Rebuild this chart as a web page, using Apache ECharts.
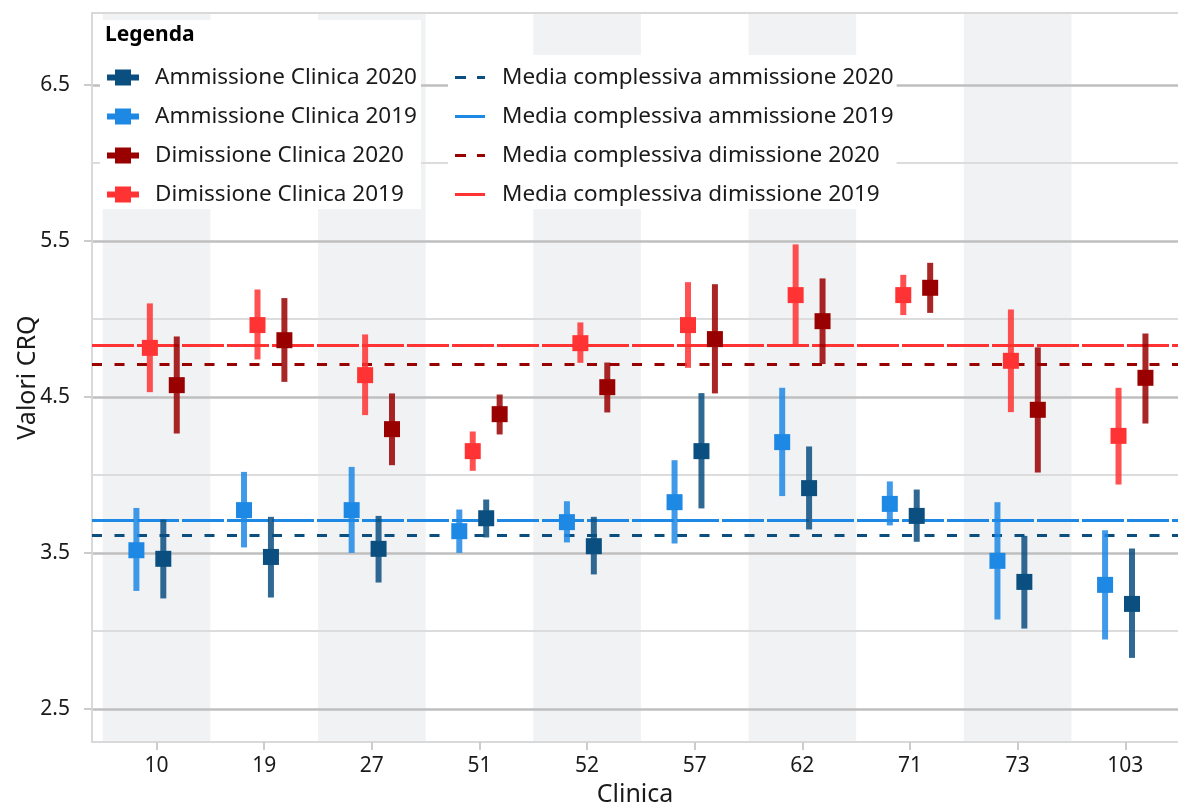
<!DOCTYPE html>
<html>
<head>
<meta charset="utf-8">
<script src="https://cdn.jsdelivr.net/npm/echarts@6/dist/echarts.min.js"></script>
<style>
html,body{margin:0;padding:0;background:#fff;}
#chart{width:1178px;height:806px;}
</style>
</head>
<body>
<div id="chart"></div>
<script>
const categories = ['10','19','27','51','52','57','62','71','73','103'];
const yTickValues = [2.5, 3.5, 4.5, 5.5, 6.5];
const yMinorValues = [3, 4, 5, 6];

const amm2019Mean = [3.517,3.774,3.774,3.639,3.697,3.825,4.210,3.814,3.449,3.295];
const amm2019Low  = [3.256,3.535,3.500,3.500,3.567,3.560,3.864,3.676,3.073,2.945];
const amm2019High = [3.788,4.019,4.051,3.778,3.831,4.094,4.558,3.958,3.825,3.645];

const amm2020Mean = [3.462,3.474,3.526,3.722,3.543,4.152,3.915,3.737,3.314,3.173];
const amm2020Low  = [3.208,3.214,3.310,3.599,3.362,3.785,3.650,3.571,3.015,2.827];
const amm2020High = [3.714,3.731,3.737,3.842,3.731,4.524,4.182,3.906,3.609,3.528];

const dim2019Mean = [4.814,4.960,4.639,4.152,4.844,4.960,5.152,5.152,4.731,4.250];
const dim2019Low  = [4.530,4.740,4.383,4.026,4.718,4.686,4.836,5.024,4.402,3.938];
const dim2019High = [5.099,5.188,4.900,4.278,4.977,5.235,5.477,5.282,5.060,4.558];

const dim2020Mean = [4.575,4.863,4.293,4.389,4.562,4.870,4.985,5.199,4.417,4.622];
const dim2020Low  = [4.265,4.596,4.062,4.259,4.400,4.522,4.710,5.038,4.015,4.329];
const dim2020High = [4.887,5.133,4.522,4.515,4.720,5.222,5.259,5.359,4.817,4.906];

const overallMeans = {
  amm2020: 3.609,
  amm2019: 3.714,
  dim2020: 4.710,
  dim2019: 4.831
};

const C_AMM20 = '#0b4f80';
const C_AMM19 = '#1e88e5';
const C_DIM20 = '#990000';
const C_DIM19 = '#ff3333';

function rows(mean, low, high) {
  return categories.map((c, i) => [i, mean[i], low[i], high[i]]);
}

function makeRender(offset, color) {
  return function (params, api) {
    const x = api.value(0) + offset;
    const pm = api.coord([x, api.value(1)]);
    const pl = api.coord([x, api.value(2)]);
    const ph = api.coord([x, api.value(3)]);
    return {
      type: 'group',
      children: [
        { type: 'rect', shape: { x: pm[0] - 3, y: ph[1], width: 6, height: pl[1] - ph[1] },
          style: { fill: color, opacity: 0.85 } },
        { type: 'rect', shape: { x: pm[0] - 8, y: pm[1] - 8, width: 16, height: 16 },
          style: { fill: color } }
      ]
    };
  };
}

function errSeries(name, color, offset, mean, low, high) {
  return {
    name: name,
    type: 'custom',
    renderItem: makeRender(offset, color),
    itemStyle: { color: color },
    encode: { x: 0, y: [1, 2, 3] },
    data: rows(mean, low, high),
    z: 6,
    animation: false
  };
}

function meanSeries(name, color, value, dashed) {
  return {
    name: name,
    type: 'line',
    data: [],
    symbol: 'none',
    color: color,
    lineStyle: { color: color, width: 3 },
    markLine: {
      silent: true,
      symbol: ['none', 'none'],
      label: { show: false },
      lineStyle: { color: color, width: 3, type: dashed ? [10, 12.5] : [42, 3] },
      data: [{ yAxis: value }],
      animation: false
    },
    z: 5,
    animation: false
  };
}

const bandData = categories.map((c, i) => i).filter(i => i % 2 === 0)
  .map(i => [{ xAxis: i - 0.5 }, { xAxis: i + 0.5 }]);

const FONT = '"Noto Sans", "Open Sans", sans-serif';
const errIcon = 'path://M0,5H32V11H0Z M8,0H24V16H8Z';
const dashIcon = 'path://M0,0H11V3H0Z M22,0H30V3H22Z';
const solidIcon = 'path://M0,0H30V3H0Z';

const chart = echarts.init(document.getElementById('chart'), null, { renderer: 'canvas' });
chart.setOption({
  animation: false,
  backgroundColor: '#ffffff',
  textStyle: { fontFamily: FONT },
  title: {
    text: 'Legenda',
    left: 105, top: 25,
    padding: 0,
    z: 10,
    textStyle: { fontFamily: FONT, fontWeight: 'bold', fontSize: 21, color: '#000' }
  },
  grid: {
    left: 92, right: 0, top: 13, bottom: 64,
    outerBoundsMode: 'none',
    containLabel: false,
    show: false
  },
  legend: [
    {
      orient: 'vertical',
      left: 100, top: 20,
      padding: [46, 4, 3, 7],
      backgroundColor: '#ffffff',
      itemWidth: 32, itemHeight: 16, itemGap: 16,
      textStyle: { fontFamily: FONT, fontSize: 22.5, color: '#1a1a1a', lineHeight: 22, padding: [0, 0, 0, 11] },
      data: [
        { name: 'Ammissione Clinica 2020', icon: errIcon },
        { name: 'Ammissione Clinica 2019', icon: errIcon },
        { name: 'Dimissione Clinica 2020', icon: errIcon },
        { name: 'Dimissione Clinica 2019', icon: errIcon }
      ],
      selectedMode: false
    },
    {
      orient: 'vertical',
      left: 448, top: 55,
      padding: [11, 3, 3, 7],
      backgroundColor: '#ffffff',
      itemWidth: 30, itemHeight: 16, itemGap: 16,
      textStyle: { fontFamily: FONT, fontSize: 22.5, color: '#1a1a1a', lineHeight: 22, padding: [0, 0, 0, 12] },
      data: [
        { name: 'Media complessiva ammissione 2020', icon: dashIcon },
        { name: 'Media complessiva ammissione 2019', icon: solidIcon },
        { name: 'Media complessiva dimissione 2020', icon: dashIcon },
        { name: 'Media complessiva dimissione 2019', icon: solidIcon }
      ],
      selectedMode: false
    }
  ],
  xAxis: [
    {
      type: 'value',
      min: -0.6, max: 9.49,
      position: 'bottom',
      name: 'Clinica',
      nameLocation: 'middle',
      nameGap: 40,
      nameTextStyle: { fontFamily: FONT, fontSize: 25, color: '#1a1a1a' },
      axisLine: { show: true, onZero: false, lineStyle: { color: '#d9d9d9', width: 2 } },
      axisTick: { show: true, length: 8, customValues: categories.map((c, i) => i),
        lineStyle: { color: '#cccccc', width: 2 } },
      axisLabel: { customValues: categories.map((c, i) => i), formatter: v => categories[Math.round(v)],
        fontFamily: FONT, fontSize: 21, color: '#1a1a1a', margin: 14 },
      splitLine: { show: false },
      z: 3
    },
    {
      type: 'value',
      min: -0.6, max: 9.49,
      position: 'top',
      axisLine: { show: true, onZero: false, lineStyle: { color: '#d9d9d9', width: 2 } },
      axisTick: { show: false },
      axisLabel: { show: false },
      splitLine: { show: false },
      z: 3
    }
  ],
  yAxis: [
    {
      type: 'value',
      min: 2.288, max: 6.96,
      name: 'Valori CRQ',
      nameLocation: 'middle',
      nameGap: 52,
      nameMoveOverlap: false,
      nameTextStyle: { fontFamily: FONT, fontSize: 25, color: '#1a1a1a' },
      axisLine: { show: true, onZero: false, lineStyle: { color: '#d9d9d9', width: 2 } },
      axisTick: { show: true, length: 8, customValues: yTickValues, lineStyle: { color: '#cccccc', width: 2 } },
      axisLabel: { customValues: yTickValues, formatter: v => v.toFixed(1),
        fontFamily: FONT, fontSize: 21, color: '#1a1a1a', margin: 22 },
      splitLine: { show: true, lineStyle: { color: '#bfbfbf', width: 2.5 } },
      z: 3
    },
    {
      type: 'value',
      min: 2.288, max: 6.96,
      position: 'left',
      axisLine: { show: false },
      axisTick: { show: false, customValues: yMinorValues },
      axisLabel: { show: false, customValues: yMinorValues },
      splitLine: { show: true, lineStyle: { color: '#dcdcdc', width: 2 } },
      z: 2
    }
  ],
  series: [
    {
      name: 'bands',
      type: 'custom',
      renderItem: () => null,
      data: [],
      silent: true,
      markArea: {
        silent: true,
        z: 0,
        itemStyle: { color: '#f1f2f4' },
        data: bandData
      },
      z: 0
    },
    meanSeries('Media complessiva ammissione 2020', C_AMM20, overallMeans.amm2020, true),
    meanSeries('Media complessiva ammissione 2019', C_AMM19, overallMeans.amm2019, false),
    meanSeries('Media complessiva dimissione 2020', C_DIM20, overallMeans.dim2020, true),
    meanSeries('Media complessiva dimissione 2019', C_DIM19, overallMeans.dim2019, false),
    errSeries('Ammissione Clinica 2019', C_AMM19, -0.1875, amm2019Mean, amm2019Low, amm2019High),
    errSeries('Dimissione Clinica 2019', C_DIM19, -0.0625, dim2019Mean, dim2019Low, dim2019High),
    errSeries('Ammissione Clinica 2020', C_AMM20, 0.0625, amm2020Mean, amm2020Low, amm2020High),
    errSeries('Dimissione Clinica 2020', C_DIM20, 0.1875, dim2020Mean, dim2020Low, dim2020High)
  ]
});
</script>
</body>
</html>
